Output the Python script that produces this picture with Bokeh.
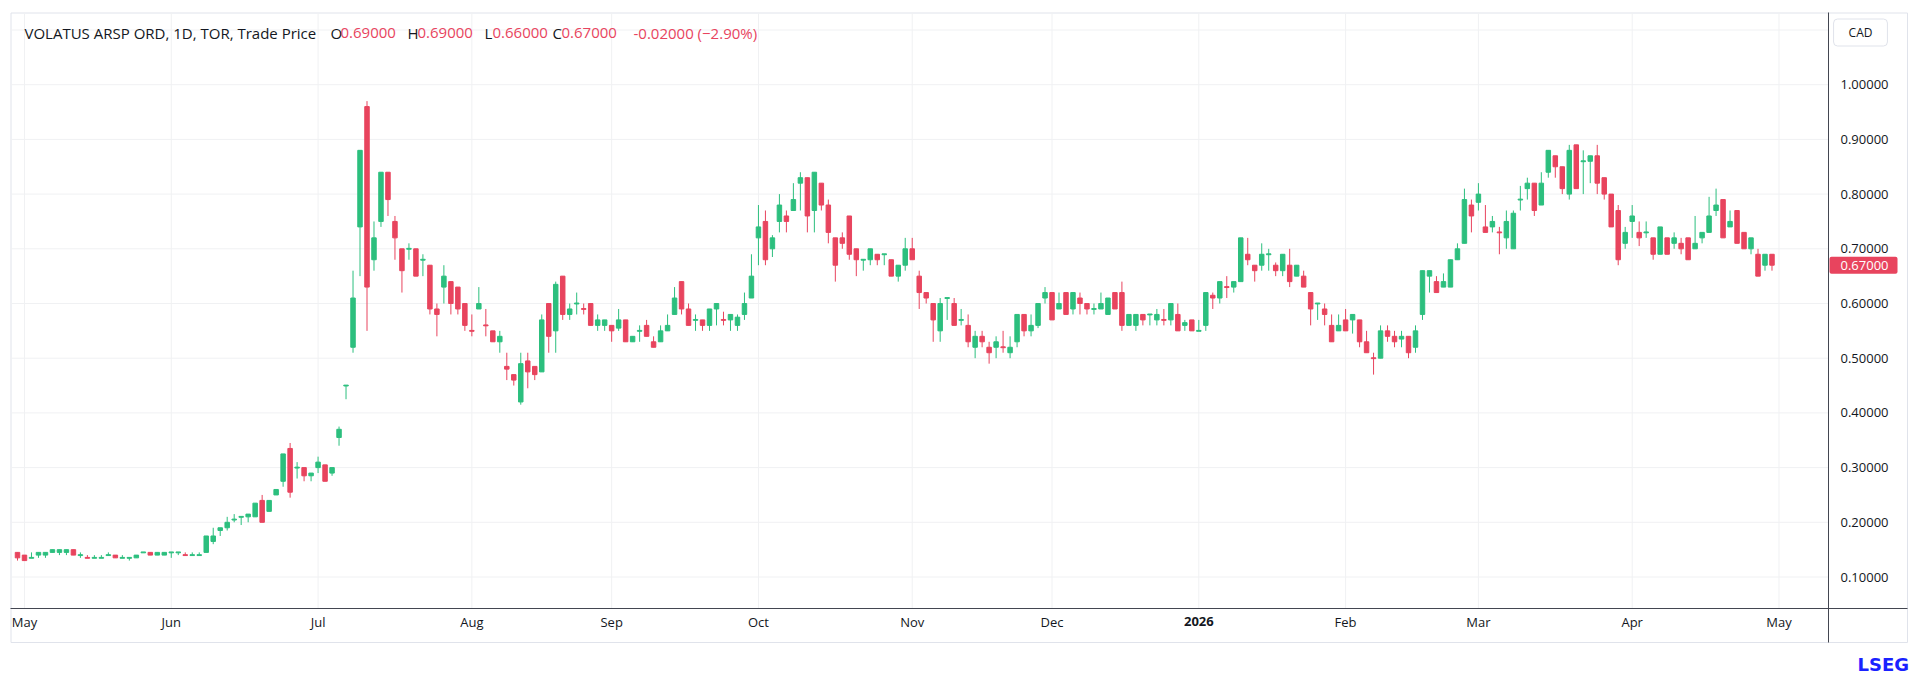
from bokeh.plotting import figure
from bokeh.models import Range1d, FixedTicker, Label, ColumnDataSource, NumeralTickFormatter
from bokeh.embed import file_html
from bokeh.resources import INLINE

# ---------------- data ----------------
opens = [0.145, 0.14, 0.135, 0.14, 0.14, 0.145, 0.145, 0.145, 0.15, 0.14,
         0.135, 0.135, 0.135, 0.14, 0.14, 0.135, 0.135, 0.135, 0.145, 0.145,
         0.14, 0.14, 0.145, 0.145, 0.14, 0.14, 0.14, 0.145, 0.165, 0.185,
         0.19, 0.205, 0.21, 0.21, 0.21, 0.24, 0.22, 0.25, 0.275, 0.335,
         0.30, 0.30, 0.285, 0.30, 0.305, 0.29, 0.355, 0.45, 0.52, 0.74,
         0.96, 0.68, 0.75, 0.84, 0.75, 0.70, 0.70, 0.70, 0.68, 0.67,
         0.59, 0.63, 0.64, 0.63, 0.60, 0.55, 0.59, 0.56, 0.55, 0.53,
         0.485, 0.47, 0.42, 0.495, 0.485, 0.475, 0.60, 0.55, 0.65, 0.58,
         0.60, 0.59, 0.60, 0.56, 0.56, 0.56, 0.555, 0.57, 0.53, 0.55,
         0.56, 0.53, 0.53, 0.55, 0.58, 0.64, 0.59, 0.57, 0.57, 0.56,
         0.59, 0.57, 0.57, 0.56, 0.58, 0.61, 0.72, 0.75, 0.70, 0.75,
         0.76, 0.77, 0.82, 0.83, 0.77, 0.82, 0.78, 0.72, 0.72, 0.76,
         0.70, 0.68, 0.68, 0.69, 0.69, 0.68, 0.65, 0.67, 0.70, 0.65,
         0.62, 0.60, 0.55, 0.61, 0.60, 0.57, 0.56, 0.52, 0.54, 0.52,
         0.52, 0.52, 0.51, 0.53, 0.58, 0.55, 0.56, 0.61, 0.62, 0.59,
         0.62, 0.59, 0.61, 0.60, 0.59, 0.59, 0.58, 0.62, 0.62, 0.56,
         0.56, 0.58, 0.58, 0.57, 0.57, 0.57, 0.58, 0.56, 0.57, 0.55,
         0.56, 0.615, 0.61, 0.63, 0.63, 0.64, 0.69, 0.67, 0.67, 0.69,
         0.67, 0.66, 0.67, 0.65, 0.65, 0.62, 0.60, 0.59, 0.56, 0.55,
         0.57, 0.57, 0.57, 0.53, 0.50, 0.50, 0.55, 0.54, 0.535, 0.54,
         0.52, 0.58, 0.65, 0.64, 0.63, 0.63, 0.68, 0.71, 0.78, 0.785,
         0.74, 0.74, 0.73, 0.72, 0.70, 0.79, 0.81, 0.82, 0.78, 0.84,
         0.87, 0.85, 0.80, 0.89, 0.86, 0.86, 0.87, 0.83, 0.80, 0.77,
         0.71, 0.75, 0.73, 0.73, 0.72, 0.69, 0.72, 0.71, 0.71, 0.72,
         0.70, 0.72, 0.73, 0.77, 0.79, 0.74, 0.77, 0.73, 0.70, 0.69,
         0.67, 0.69]
highs = [0.145, 0.14, 0.145, 0.145, 0.145, 0.15, 0.15, 0.15, 0.15, 0.145,
         0.14, 0.14, 0.14, 0.145, 0.14, 0.14, 0.135, 0.14, 0.145, 0.145,
         0.145, 0.145, 0.145, 0.145, 0.145, 0.145, 0.145, 0.175, 0.19, 0.19,
         0.21, 0.215, 0.21, 0.215, 0.235, 0.25, 0.24, 0.26, 0.325, 0.345,
         0.31, 0.30, 0.29, 0.32, 0.305, 0.30, 0.375, 0.45, 0.66, 0.88,
         0.97, 0.75, 0.84, 0.84, 0.76, 0.70, 0.71, 0.70, 0.69, 0.67,
         0.60, 0.67, 0.64, 0.63, 0.60, 0.58, 0.63, 0.59, 0.55, 0.55,
         0.51, 0.47, 0.51, 0.51, 0.485, 0.58, 0.60, 0.64, 0.65, 0.60,
         0.62, 0.60, 0.60, 0.58, 0.57, 0.56, 0.59, 0.57, 0.54, 0.56,
         0.57, 0.54, 0.56, 0.58, 0.63, 0.64, 0.60, 0.58, 0.57, 0.59,
         0.60, 0.585, 0.58, 0.58, 0.62, 0.69, 0.78, 0.77, 0.725, 0.80,
         0.77, 0.82, 0.84, 0.83, 0.84, 0.82, 0.79, 0.72, 0.73, 0.76,
         0.70, 0.68, 0.70, 0.69, 0.69, 0.68, 0.67, 0.72, 0.72, 0.66,
         0.62, 0.60, 0.61, 0.61, 0.61, 0.59, 0.58, 0.55, 0.55, 0.53,
         0.54, 0.55, 0.54, 0.58, 0.58, 0.58, 0.60, 0.63, 0.62, 0.62,
         0.62, 0.62, 0.62, 0.60, 0.60, 0.62, 0.61, 0.62, 0.64, 0.58,
         0.58, 0.58, 0.58, 0.59, 0.59, 0.60, 0.60, 0.57, 0.57, 0.57,
         0.62, 0.62, 0.64, 0.65, 0.64, 0.72, 0.72, 0.67, 0.71, 0.70,
         0.675, 0.69, 0.70, 0.67, 0.66, 0.62, 0.60, 0.60, 0.58, 0.58,
         0.59, 0.58, 0.57, 0.55, 0.51, 0.56, 0.56, 0.55, 0.55, 0.54,
         0.56, 0.66, 0.66, 0.65, 0.655, 0.68, 0.71, 0.81, 0.79, 0.82,
         0.78, 0.76, 0.74, 0.77, 0.77, 0.815, 0.83, 0.82, 0.84, 0.88,
         0.87, 0.85, 0.89, 0.89, 0.88, 0.87, 0.89, 0.83, 0.80, 0.78,
         0.74, 0.78, 0.75, 0.75, 0.72, 0.74, 0.72, 0.73, 0.72, 0.72,
         0.76, 0.73, 0.795, 0.81, 0.79, 0.77, 0.77, 0.73, 0.72, 0.70,
         0.69, 0.69]
lows = [0.13, 0.13, 0.135, 0.135, 0.135, 0.145, 0.14, 0.14, 0.14, 0.135,
        0.135, 0.135, 0.135, 0.14, 0.135, 0.135, 0.13, 0.135, 0.145, 0.14,
        0.14, 0.14, 0.135, 0.14, 0.14, 0.14, 0.14, 0.145, 0.16, 0.175,
        0.185, 0.20, 0.195, 0.20, 0.21, 0.20, 0.22, 0.25, 0.265, 0.245,
        0.28, 0.275, 0.275, 0.29, 0.275, 0.285, 0.34, 0.425, 0.51, 0.65,
        0.55, 0.66, 0.74, 0.76, 0.68, 0.62, 0.68, 0.65, 0.65, 0.58,
        0.54, 0.60, 0.58, 0.58, 0.55, 0.54, 0.59, 0.54, 0.53, 0.51,
        0.46, 0.45, 0.415, 0.445, 0.46, 0.475, 0.51, 0.51, 0.57, 0.57,
        0.58, 0.58, 0.56, 0.55, 0.55, 0.53, 0.55, 0.53, 0.53, 0.53,
        0.54, 0.52, 0.53, 0.55, 0.58, 0.58, 0.56, 0.55, 0.55, 0.55,
        0.56, 0.56, 0.55, 0.55, 0.57, 0.61, 0.67, 0.67, 0.685, 0.73,
        0.73, 0.77, 0.77, 0.73, 0.73, 0.77, 0.71, 0.64, 0.70, 0.68,
        0.65, 0.66, 0.67, 0.67, 0.67, 0.65, 0.64, 0.66, 0.68, 0.59,
        0.60, 0.53, 0.53, 0.57, 0.56, 0.56, 0.52, 0.50, 0.52, 0.49,
        0.50, 0.51, 0.50, 0.52, 0.54, 0.54, 0.555, 0.60, 0.57, 0.59,
        0.58, 0.58, 0.58, 0.58, 0.58, 0.59, 0.58, 0.59, 0.55, 0.56,
        0.55, 0.56, 0.56, 0.56, 0.56, 0.56, 0.55, 0.55, 0.55, 0.55,
        0.55, 0.59, 0.60, 0.61, 0.62, 0.64, 0.67, 0.64, 0.66, 0.66,
        0.65, 0.65, 0.63, 0.65, 0.63, 0.56, 0.57, 0.56, 0.53, 0.55,
        0.55, 0.545, 0.52, 0.51, 0.47, 0.50, 0.53, 0.52, 0.52, 0.50,
        0.51, 0.57, 0.62, 0.62, 0.63, 0.63, 0.68, 0.71, 0.73, 0.77,
        0.73, 0.73, 0.69, 0.70, 0.70, 0.77, 0.79, 0.76, 0.78, 0.83,
        0.83, 0.80, 0.79, 0.81, 0.80, 0.82, 0.80, 0.79, 0.74, 0.67,
        0.70, 0.72, 0.705, 0.72, 0.68, 0.69, 0.69, 0.70, 0.69, 0.68,
        0.70, 0.71, 0.73, 0.76, 0.72, 0.74, 0.71, 0.70, 0.69, 0.65,
        0.66, 0.66]
closes = [0.135, 0.13, 0.135, 0.145, 0.145, 0.15, 0.15, 0.15, 0.14, 0.14,
          0.135, 0.135, 0.135, 0.14, 0.135, 0.135, 0.135, 0.14, 0.145, 0.14,
          0.145, 0.145, 0.145, 0.145, 0.14, 0.14, 0.14, 0.175, 0.175, 0.19,
          0.20, 0.205, 0.21, 0.215, 0.235, 0.20, 0.24, 0.26, 0.325, 0.255,
          0.30, 0.285, 0.29, 0.31, 0.275, 0.30, 0.37, 0.45, 0.61, 0.88,
          0.63, 0.72, 0.84, 0.79, 0.72, 0.66, 0.70, 0.65, 0.68, 0.59,
          0.58, 0.65, 0.60, 0.59, 0.56, 0.55, 0.60, 0.56, 0.53, 0.54,
          0.48, 0.46, 0.49, 0.475, 0.47, 0.57, 0.54, 0.635, 0.58, 0.59,
          0.60, 0.59, 0.56, 0.57, 0.57, 0.55, 0.57, 0.53, 0.54, 0.55,
          0.54, 0.52, 0.55, 0.56, 0.61, 0.59, 0.56, 0.57, 0.56, 0.59,
          0.60, 0.57, 0.58, 0.575, 0.60, 0.65, 0.74, 0.68, 0.72, 0.78,
          0.75, 0.79, 0.83, 0.76, 0.84, 0.78, 0.73, 0.67, 0.71, 0.69,
          0.68, 0.68, 0.70, 0.68, 0.69, 0.65, 0.67, 0.70, 0.68, 0.62,
          0.61, 0.57, 0.60, 0.61, 0.56, 0.57, 0.53, 0.54, 0.53, 0.51,
          0.53, 0.52, 0.52, 0.58, 0.55, 0.56, 0.60, 0.62, 0.57, 0.60,
          0.58, 0.62, 0.60, 0.59, 0.59, 0.60, 0.61, 0.59, 0.56, 0.58,
          0.58, 0.57, 0.58, 0.58, 0.57, 0.60, 0.55, 0.565, 0.55, 0.55,
          0.62, 0.61, 0.64, 0.63, 0.64, 0.72, 0.68, 0.66, 0.69, 0.69,
          0.66, 0.69, 0.64, 0.67, 0.63, 0.59, 0.60, 0.58, 0.53, 0.56,
          0.55, 0.58, 0.53, 0.51, 0.50, 0.55, 0.54, 0.53, 0.54, 0.51,
          0.55, 0.66, 0.66, 0.62, 0.64, 0.68, 0.70, 0.79, 0.76, 0.80,
          0.73, 0.75, 0.73, 0.75, 0.765, 0.79, 0.82, 0.77, 0.82, 0.88,
          0.85, 0.81, 0.88, 0.81, 0.86, 0.87, 0.82, 0.80, 0.74, 0.68,
          0.73, 0.76, 0.72, 0.73, 0.69, 0.74, 0.69, 0.72, 0.70, 0.68,
          0.71, 0.73, 0.76, 0.78, 0.72, 0.75, 0.71, 0.70, 0.72, 0.65,
          0.69, 0.67]

month_labels = ["May", "Jun", "Jul", "Aug", "Sep", "Oct", "Nov", "Dec",
                "2026", "Feb", "Mar", "Apr", "May"]
month_bar_index = [1, 22, 43, 65, 85, 106, 128, 148, 169, 190, 209, 231, 252]
year_label = "2026"
price_ticks = [0.1, 0.2, 0.3, 0.4, 0.5, 0.6, 0.7, 0.8, 0.9, 1.0]
grid_prices = price_ticks + [1.1]
instrument = "VOLATUS ARSP ORD, 1D, TOR, Trade Price"
currency = "CAD"
brand = "LSEG"

# ---------------- styling / layout ----------------
UP = "#2cbf7e"
DOWN = "#e8445e"
INK = "#131722"
GRID = "#f0f1f3"
BORDER = "#e0e3eb"
AXIS = "#434651"
FONT = "Open Sans"


# page pixel <-> data mapping (bar spacing 6.99 px, 547 px per 1.0 CAD)
def x_at(px):
    return (px - 17.0) / 6.99


def y_at(py):
    return (631.2 - py) / 547.0


FRAME_L, FRAME_R, FRAME_T, FRAME_B = 8, 1912, 8, 681
PLOT_R, PLOT_B = 1828, 608          # price-axis line / time-axis line
BOX_L, BOX_T, BOX_R, BOX_B = 10, 12, 1907, 642

n = len(closes)
xs = list(range(n))
colors, tops, bottoms = [], [], []
prev_c = None
for o, c in zip(opens, closes):
    if c > o:
        up = True
    elif c < o:
        up = False
    else:
        up = prev_c is None or c >= prev_c
    colors.append(UP if up else DOWN)
    hi_b, lo_b = max(o, c), min(o, c)
    if hi_b - lo_b < 0.0016:
        mid = (hi_b + lo_b) / 2
        hi_b, lo_b = mid + 0.0008, mid - 0.0008
    tops.append(hi_b)
    bottoms.append(lo_b)
    prev_c = c

src = ColumnDataSource(dict(x=xs, high=highs, low=lows, top=tops,
                            bottom=bottoms, color=colors))

p = figure(frame_width=FRAME_R - FRAME_L, frame_height=FRAME_B - FRAME_T,
           x_range=Range1d(x_at(FRAME_L), x_at(FRAME_R)),
           y_range=Range1d(y_at(FRAME_B), y_at(FRAME_T)),
           y_axis_location="right", output_backend="svg", toolbar_location=None,
           min_border_left=FRAME_L, min_border_top=FRAME_T,
           min_border_right=1920 - FRAME_R, min_border_bottom=0)
p.background_fill_color = "white"
p.border_fill_color = "white"
p.outline_line_color = None
p.xgrid.visible = False
p.ygrid.visible = False

# widget border
p.quad(left=[x_at(BOX_L + 0.5)], right=[x_at(BOX_R)], top=[y_at(BOX_T + 0.5)],
       bottom=[y_at(BOX_B)], fill_color=None, line_color=BORDER, line_width=1)

# grid lines (confined to the price pane)
p.segment(x0=[x_at(BOX_L)] * len(grid_prices), y0=grid_prices,
          x1=[x_at(PLOT_R)] * len(grid_prices), y1=grid_prices,
          line_color=GRID, line_width=1)
p.segment(x0=month_bar_index, y0=[y_at(PLOT_B)] * len(month_bar_index),
          x1=month_bar_index, y1=[y_at(BOX_T)] * len(month_bar_index),
          line_color=GRID, line_width=1)

# candles
p.segment(x0="x", y0="low", x1="x", y1="high", line_color="color",
          line_width=1, source=src)
p.vbar(x="x", width=0.64, top="top", bottom="bottom", fill_color="color",
       line_color="color", line_width=1, source=src)

# axes drawn at fixed locations inside the canvas
xa = p.xaxis[0]
xa.fixed_location = y_at(PLOT_B)
xa.bounds = (x_at(BOX_L), x_at(BOX_R))
xa.ticker = FixedTicker(ticks=month_bar_index)
xa.major_label_overrides = {i: ("" if lab == year_label else lab)
                            for i, lab in zip(month_bar_index, month_labels)}
ya = p.yaxis[0]
ya.fixed_location = x_at(PLOT_R)
ya.bounds = (y_at(BOX_B), y_at(BOX_T))
ya.ticker = FixedTicker(ticks=price_ticks)
ya.formatter = NumeralTickFormatter(format="0.00000")
for ax in (xa, ya):
    ax.major_tick_line_color = None
    ax.minor_tick_line_color = None
    ax.major_tick_out = 0
    ax.major_tick_in = 0
    ax.axis_line_color = AXIS
    ax.axis_line_width = 1
    ax.major_label_text_font = FONT
    ax.major_label_text_font_size = "13px"
    ax.major_label_text_color = INK
xa.major_label_standoff = 4
ya.major_label_standoff = 12

# bold year label on the time axis
yi = month_bar_index[month_labels.index(year_label)]
p.add_layout(Label(x=yi, y=y_at(621), text=year_label, text_align="center",
                   text_baseline="middle", text_font=FONT,
                   text_font_style="bold", text_font_size="13px",
                   text_color=INK))

# header legend
o_last, h_last, l_last, c_last = opens[-1], highs[-1], lows[-1], closes[-1]
chg = c_last - closes[-2]
pct = chg / closes[-2] * 100
sign = "-" if chg < 0 else "+"
psign = "\u2212" if chg < 0 else "+"
last_col = colors[-1]
header = [
    (instrument, 24, INK),
    ("O", 330, INK), (f"{o_last:.5f}", 340, last_col),
    ("H", 407, INK), (f"{h_last:.5f}", 417, last_col),
    ("L", 484, INK), (f"{l_last:.5f}", 492, last_col),
    ("C", 552, INK), (f"{c_last:.5f}", 561, last_col),
    (f"{sign}{abs(chg):.5f} ({psign}{abs(pct):.2f}%)", 633, last_col),
]
for txt, px, col in header:
    p.add_layout(Label(x=x_at(px), y=y_at(32), text=txt, text_align="left",
                       text_baseline="middle", text_font=FONT,
                       text_font_size="15px", text_color=col))

# currency box  (padding is left, right, top, bottom)
p.add_layout(Label(x=x_at(1860), y=y_at(32), text=currency, text_align="center",
                   text_baseline="middle", text_font=FONT,
                   text_font_size="12px", text_color=INK,
                   background_fill_color="white", border_line_color=BORDER,
                   border_radius=4, padding=(15, 15, 5, 5)))

# last price tag
p.add_layout(Label(x=x_at(PLOT_R + 1), y=c_last, text=f"{c_last:.5f}",
                   text_align="left", text_baseline="middle", text_font=FONT,
                   text_font_size="13px", text_color="white",
                   background_fill_color=last_col, border_radius=2,
                   padding=(11, 9, 4, 4)))

# brand
p.add_layout(Label(x=x_at(1857), y=y_at(664), text=brand, text_align="left",
                   text_baseline="middle", text_font="DejaVu Sans",
                   text_font_style="bold", text_font_size="18px",
                   text_color="#1a22ff"))

open("out.html", "w").write(file_html(p, INLINE))
